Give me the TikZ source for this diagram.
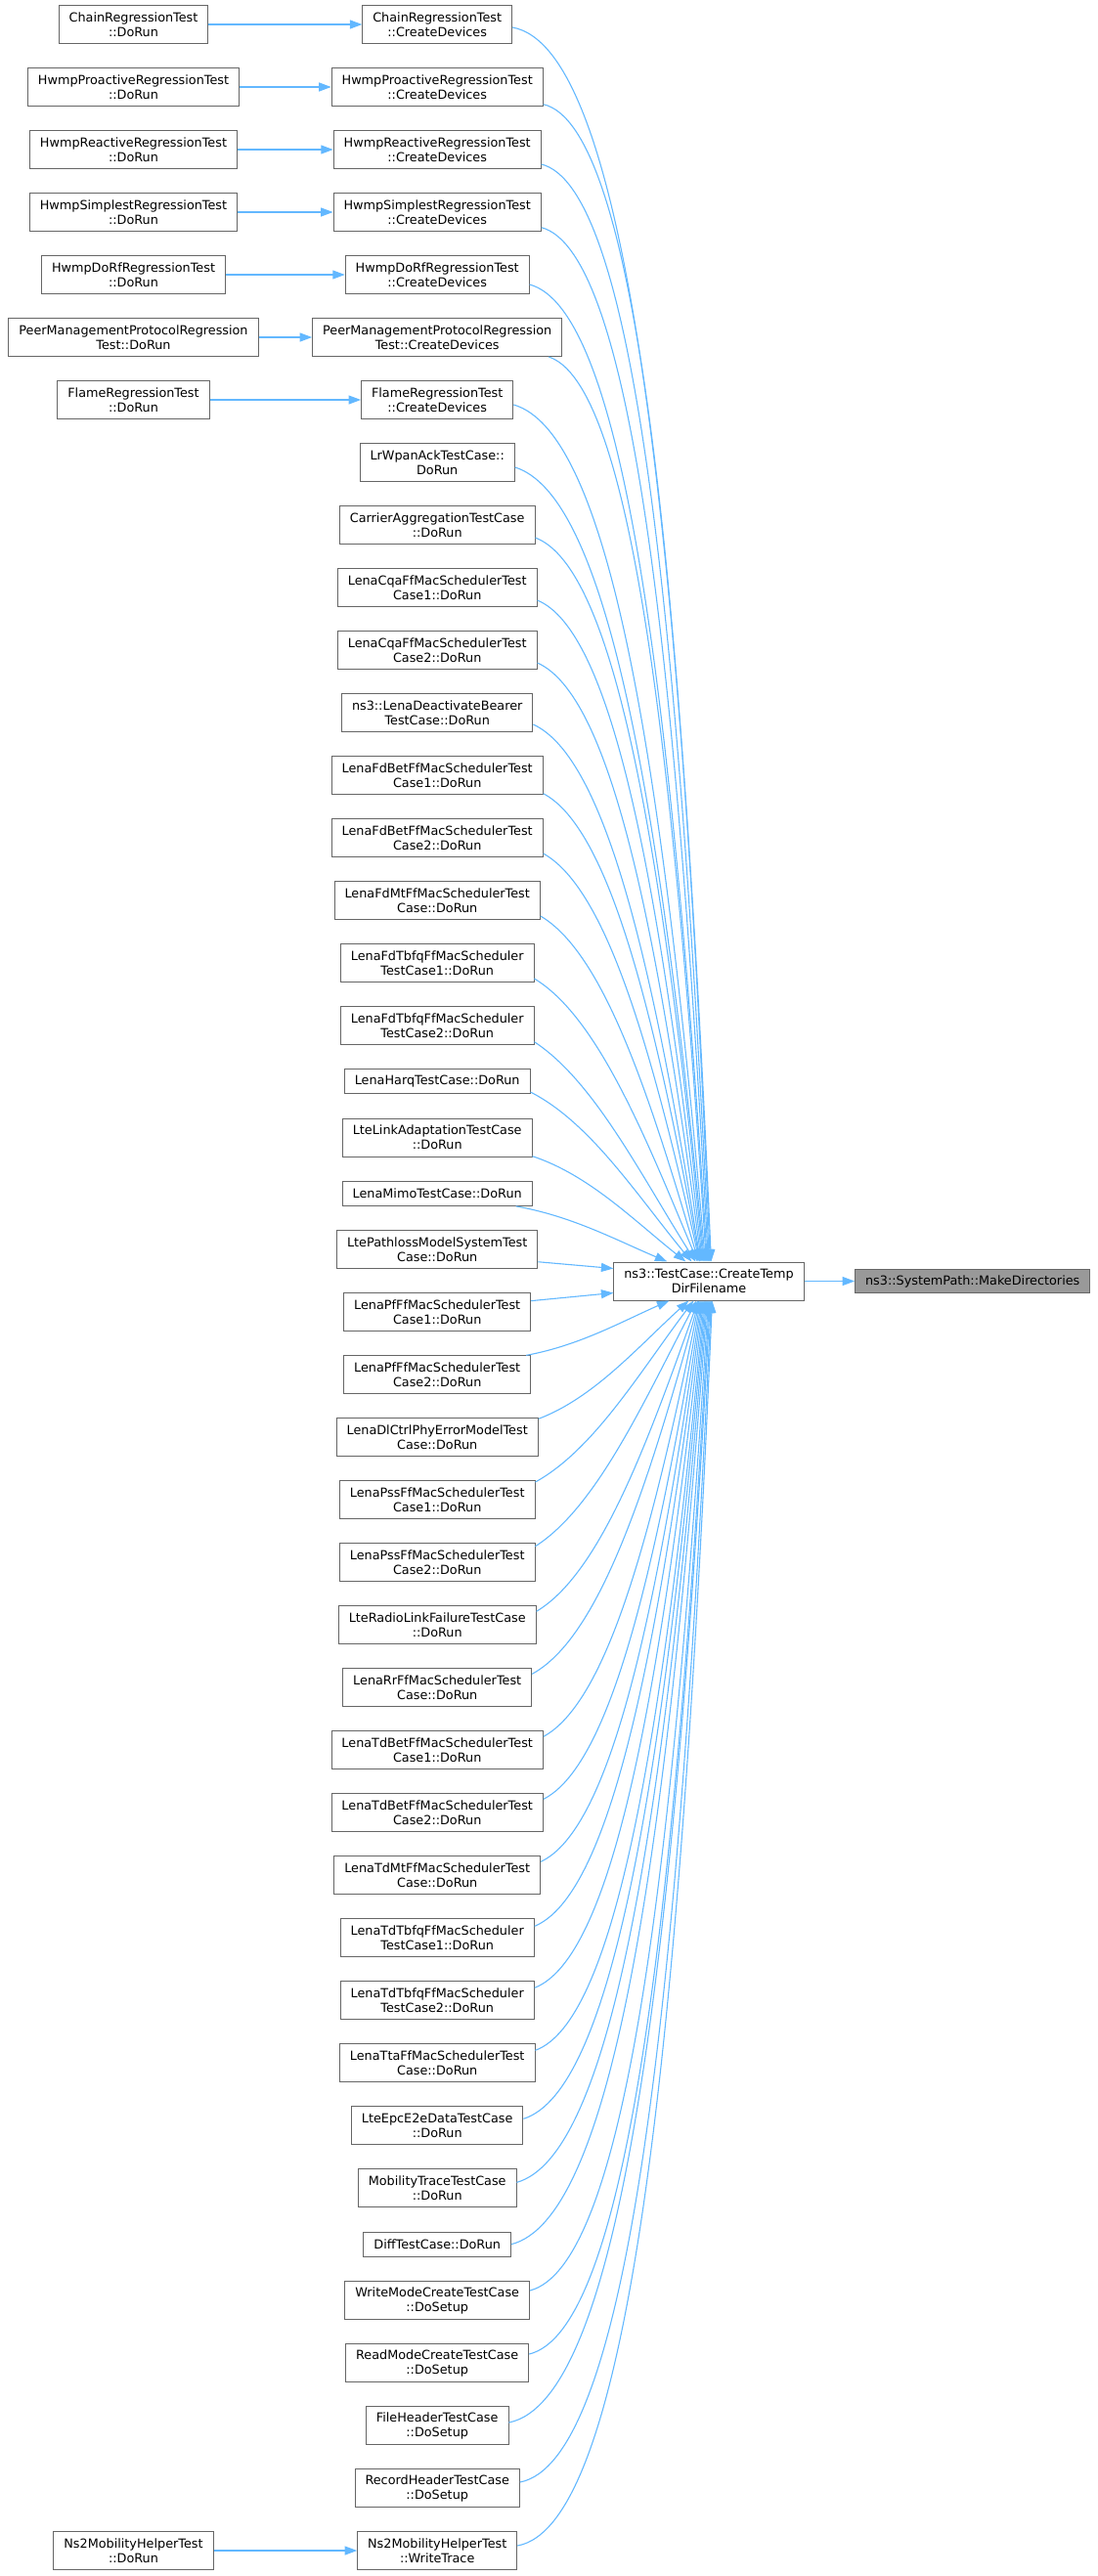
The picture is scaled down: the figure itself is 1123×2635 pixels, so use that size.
\documentclass[tikz,border=0pt]{standalone}
\usepackage{fontspec}
\setmainfont{DejaVu Sans}
\usetikzlibrary{arrows.meta,calc}
\definecolor{edgeblue}{HTML}{63B8FF}
\definecolor{nodeborder}{HTML}{666666}
\definecolor{rootfill}{HTML}{999999}
\begin{document}
\begin{tikzpicture}[x=1pt,y=-1pt,
  fn/.style={draw=nodeborder, fill=white, text=black, line width=0.9pt, rectangle, align=center,
    inner xsep=10.5pt, inner ysep=1pt, minimum height=39.1pt, font=\fontsize{12.8}{15}\selectfont},
  fn1/.style={fn, minimum height=24.8pt},
  rootn/.style={fn1, fill=rootfill},
  edge/.style={draw=edgeblue, line width=1.1pt, -{Triangle[length=12.5pt,width=9pt]}}
]
\useasboundingbox (0,0) rectangle (1123,2635);

% left column
\node[fn] (d1) at (136.5,25) {ChainRegressionTest\\::DoRun};
\node[fn] (d2) at (136.5,89) {HwmpProactiveRegressionTest\\::DoRun};
\node[fn] (d3) at (136.5,153) {HwmpReactiveRegressionTest\\::DoRun};
\node[fn] (d4) at (136.5,217) {HwmpSimplestRegressionTest\\::DoRun};
\node[fn] (d5) at (136.5,281) {HwmpDoRfRegressionTest\\::DoRun};
\node[fn] (d6) at (136.5,345) {PeerManagementProtocolRegression\\Test::DoRun};
\node[fn] (d7) at (136.5,409) {FlameRegressionTest\\::DoRun};
\node[fn] (d42) at (136.5,2609) {Ns2MobilityHelperTest\\::DoRun};

% middle column
\node[fn] (m1) at (447.2,25) {ChainRegressionTest\\::CreateDevices};
\node[fn] (m2) at (447.2,89) {HwmpProactiveRegressionTest\\::CreateDevices};
\node[fn] (m3) at (447.2,153) {HwmpReactiveRegressionTest\\::CreateDevices};
\node[fn] (m4) at (447.2,217) {HwmpSimplestRegressionTest\\::CreateDevices};
\node[fn] (m5) at (447.2,281) {HwmpDoRfRegressionTest\\::CreateDevices};
\node[fn] (m6) at (447.2,345) {PeerManagementProtocolRegression\\Test::CreateDevices};
\node[fn] (m7) at (447.2,409) {FlameRegressionTest\\::CreateDevices};
\node[fn] (m8) at (447.2,473) {LrWpanAckTestCase::\\DoRun};
\node[fn] (m9) at (447.2,537) {CarrierAggregationTestCase\\::DoRun};
\node[fn] (m10) at (447.2,601) {LenaCqaFfMacSchedulerTest\\Case1::DoRun};
\node[fn] (m11) at (447.2,665) {LenaCqaFfMacSchedulerTest\\Case2::DoRun};
\node[fn] (m12) at (447.2,729) {ns3::LenaDeactivateBearer\\TestCase::DoRun};
\node[fn] (m13) at (447.2,793) {LenaFdBetFfMacSchedulerTest\\Case1::DoRun};
\node[fn] (m14) at (447.2,857) {LenaFdBetFfMacSchedulerTest\\Case2::DoRun};
\node[fn] (m15) at (447.2,921) {LenaFdMtFfMacSchedulerTest\\Case::DoRun};
\node[fn] (m16) at (447.2,985) {LenaFdTbfqFfMacScheduler\\TestCase1::DoRun};
\node[fn] (m17) at (447.2,1049) {LenaFdTbfqFfMacScheduler\\TestCase2::DoRun};
\node[fn1] (m18) at (447.2,1106.33) {LenaHarqTestCase::DoRun};
\node[fn] (m19) at (447.2,1163.67) {LteLinkAdaptationTestCase\\::DoRun};
\node[fn1] (m20) at (447.2,1221) {LenaMimoTestCase::DoRun};
\node[fn] (m21) at (447.2,1278.33) {LtePathlossModelSystemTest\\Case::DoRun};
\node[fn] (m22) at (447.2,1342.33) {LenaPfFfMacSchedulerTest\\Case1::DoRun};
\node[fn] (m23) at (447.2,1406.33) {LenaPfFfMacSchedulerTest\\Case2::DoRun};
\node[fn] (m24) at (447.2,1470.33) {LenaDlCtrlPhyErrorModelTest\\Case::DoRun};
\node[fn] (m25) at (447.2,1534.33) {LenaPssFfMacSchedulerTest\\Case1::DoRun};
\node[fn] (m26) at (447.2,1598.33) {LenaPssFfMacSchedulerTest\\Case2::DoRun};
\node[fn] (m27) at (447.2,1662.33) {LteRadioLinkFailureTestCase\\::DoRun};
\node[fn] (m28) at (447.2,1726.33) {LenaRrFfMacSchedulerTest\\Case::DoRun};
\node[fn] (m29) at (447.2,1790.33) {LenaTdBetFfMacSchedulerTest\\Case1::DoRun};
\node[fn] (m30) at (447.2,1854.33) {LenaTdBetFfMacSchedulerTest\\Case2::DoRun};
\node[fn] (m31) at (447.2,1918.33) {LenaTdMtFfMacSchedulerTest\\Case::DoRun};
\node[fn] (m32) at (447.2,1982.33) {LenaTdTbfqFfMacScheduler\\TestCase1::DoRun};
\node[fn] (m33) at (447.2,2046.33) {LenaTdTbfqFfMacScheduler\\TestCase2::DoRun};
\node[fn] (m34) at (447.2,2110.33) {LenaTtaFfMacSchedulerTest\\Case::DoRun};
\node[fn] (m35) at (447.2,2174.33) {LteEpcE2eDataTestCase\\::DoRun};
\node[fn] (m36) at (447.2,2238.33) {MobilityTraceTestCase\\::DoRun};
\node[fn1] (m37) at (447.2,2295.67) {DiffTestCase::DoRun};
\node[fn] (m38) at (447.2,2353) {WriteModeCreateTestCase\\::DoSetup};
\node[fn] (m39) at (447.2,2417) {ReadModeCreateTestCase\\::DoSetup};
\node[fn] (m40) at (447.2,2481) {FileHeaderTestCase\\::DoSetup};
\node[fn] (m41) at (447.2,2545) {RecordHeaderTestCase\\::DoSetup};
\node[fn] (m42) at (447.2,2609) {Ns2MobilityHelperTest\\::WriteTrace};

% target and root
\node[fn] (t) at (725,1310.5) {ns3::TestCase::CreateTemp\\DirFilename};
\node[rootn] (md) at (994.7,1310.5) {ns3::SystemPath::MakeDirectories};

% left -> middle
\foreach \k in {1,2,3,4,5,6,7,42} \draw[edge] (d\k) -- (m\k);

% target -> root
\draw[edge] (t) -- (md);

% upper fan-in (arrive at top of target); let-values carry pt, so y is page-up
\foreach \k/\sa/\sx/\sy/\ex in {
 1/east/0/3/100, 2/east/0/17.7/99, 3/east/0/15/98, 4/east/0/15.7/97, 5/east/0/10/96,
 6/south east/-14/0/95, 7/east/0/5/94, 8/east/0/5/93, 9/east/0/13/92, 10/east/0/13/91,
 11/east/0/13/90, 12/east/0/12/89, 13/east/0/18.7/88.5, 14/east/0/16/88, 15/east/0/16/87,
 16/east/0/16/86, 17/east/0/16.7/84, 18/east/0/10.7/80, 19/east/0/19/74, 20/south east/-17/0/55}
{
 \draw[edge] let \p1=($(m\k.\sa)+(\sx,\sy)$), \p2=($(t.north west)+(\ex,0)$),
   \n1={abs(\y1-\y2)}, \n2={min(1,max(0,(\n1-224)/1038))}, \n3={min(1,\n1/224)},
   \n8={\x2-\x1},
   \n4={(0.37+0.19*\n2)*\n8}, \n5={(40-20*\n2)*\n3},
   \n6={(0.34-0.17*\n2)*\n8}, \n7={(88+702*\n2)*\n3}
 in (\p1) .. controls ($(\p1)+(\n4,-\n5)$) and ($(\p2)+(-\n6,\n7)$) .. (\p2);
}

% side arrivals
\draw[edge] ($(m21.east)+(0,12.4)$) -- ($(t.west)+(0,-13)$);
\draw[edge] ($(m22.east)+(0,-11.7)$) -- ($(t.west)+(0,12)$);

% lower fan-in (arrive at bottom of target)
\foreach \k/\sa/\sx/\sy/\ex in {
 23/north east/-5/0/57, 24/east/0/-19/77, 25/east/0/-18.3/82, 26/east/0/-16.6/85,
 27/east/0/-14/86.5, 28/east/0/-14/87.5, 29/east/0/-14/88, 30/east/0/-14/89, 31/east/0/-14/90,
 32/east/0/-12/91, 33/east/0/-13/92, 34/east/0/-13/93, 35/east/0/-7/94, 36/east/0/-6/95,
 37/east/0/0/96, 38/east/0/-10/97, 39/east/0/-9/98, 40/east/0/-3/99, 41/east/0/-6/100, 42/east/0/-5/101}
{
 \draw[edge] let \p1=($(m\k.\sa)+(\sx,\sy)$), \p2=($(t.south west)+(\ex,0)$),
   \n1={abs(\y1-\y2)}, \n2={min(1,max(0,(\n1-224)/1038))}, \n3={min(1,\n1/224)},
   \n8={\x2-\x1},
   \n4={(0.37+0.19*\n2)*\n8}, \n5={(40-20*\n2)*\n3},
   \n6={(0.34-0.17*\n2)*\n8}, \n7={(88+702*\n2)*\n3}
 in (\p1) .. controls ($(\p1)+(\n4,\n5)$) and ($(\p2)+(-\n6,-\n7)$) .. (\p2);
}
\end{tikzpicture}
\end{document}
